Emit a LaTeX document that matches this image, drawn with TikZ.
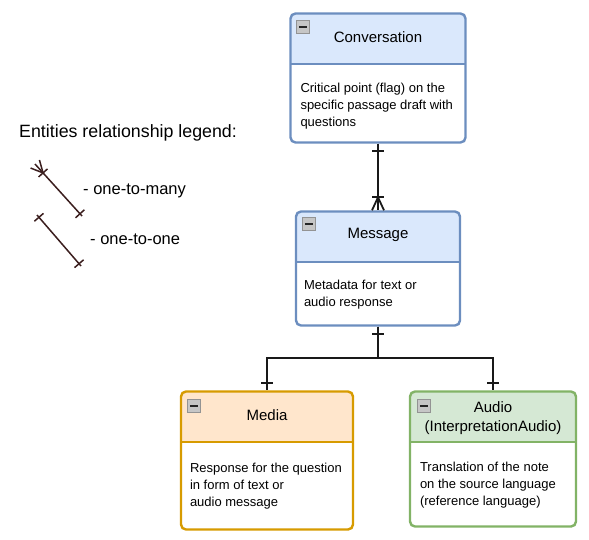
\documentclass[tikz,border=0pt]{standalone}
\usepackage{fontspec}
\setmainfont{Liberation Sans}
\usetikzlibrary{decorations.markings}

\definecolor{convfill}{HTML}{DAE8FC}
\definecolor{convline}{HTML}{6C8EBF}
\definecolor{mediafill}{HTML}{FFE6CC}
\definecolor{medialine}{HTML}{D79B00}
\definecolor{audiofill}{HTML}{D5E8D4}
\definecolor{audioline}{HTML}{82B366}
\definecolor{legendcol}{HTML}{3B1E1E}

\tikzset{
    entity/.style 2 args={rectangle, rounded corners=5pt, draw=#2, line width=2.4pt, fill=white,
        path picture={
            \fill[#1, sharp corners] (path picture bounding box.north west) rectangle ([yshift=-50pt]path picture bounding box.north east);
            \draw[#2, sharp corners, line width=2pt] ([yshift=-50pt]path picture bounding box.north west) -- ([yshift=-50pt]path picture bounding box.north east);
        }},
    entitytitle/.style={inner sep=0pt, align=center, font=\fontsize{15}{19}\selectfont},
    entitybody/.style={anchor=north west, inner sep=0pt, align=left, font=\fontsize{13}{17}\selectfont},
    minusicon/.style={rectangle, draw=gray!85, fill=gray!45, line width=1pt, minimum width=13pt, minimum height=13pt, inner sep=0pt,
        path picture={\draw[black!85, line width=1.8pt] ([xshift=2.5pt]path picture bounding box.west) -- ([xshift=-2.5pt]path picture bounding box.east);}},
    conn/.style={color=black!90, line width=1.8pt},
    legendline/.style={color=legendcol, line width=1.5pt},
    legendtitle/.style={anchor=west, inner sep=0pt, font=\fontsize{17.8}{20}\selectfont},
    legendtext/.style={anchor=west, inner sep=0pt, font=\fontsize{16.5}{20}\selectfont},
    onebar/.style={postaction={decorate, decoration={markings, mark=at position #1 with {\draw (0pt,-6pt) -- (0pt,6pt);}}}},
    manyend/.style={postaction={decorate, decoration={markings, mark=at position -13pt with {
        \draw (0pt,-6pt) -- (0pt,6pt);
        \draw (0pt,0pt) -- (13pt,-6pt) (0pt,0pt) -- (13pt,6pt);}}}},
    manystart/.style={postaction={decorate, decoration={markings, mark=at position 12pt with {
        \draw (0pt,-6pt) -- (0pt,6pt);
        \draw (0pt,0pt) -- (-12pt,-6pt) (0pt,0pt) -- (-12pt,6pt);}}}}
}

\begin{document}
\begin{tikzpicture}[x=1pt,y=-1pt]
        \useasboundingbox (0,0) rectangle (589,539);

        % legend
        \node[legendtitle] (legend) at (19,133) {Entities relationship legend:};
        \coordinate (m1) at (35,164);
        \coordinate (m2) at (82,216);
        \coordinate (o1) at (37,215);
        \coordinate (o2) at (81,266);
        \draw[legendline, manystart, onebar=-3pt] (m1) -- (m2);
        \draw[legendline, onebar=3pt, onebar=-3pt] (o1) -- (o2);
        \node[legendtext] (lmany) at (83,191) {- one-to-many};
        \node[legendtext] (lone) at (90,239) {- one-to-one};

        % entities
        \node[entity={convfill}{convline}, minimum width=175pt, minimum height=129pt] (conv) at (378,78) {};
        \node[minusicon] (convicon) at ([xshift=14pt,yshift=-15pt]conv.north west) {};
        \node[entitytitle] (convtitle) at ([yshift=-25pt]conv.north) {Conversation};
        \node[entitybody] (convtext) at ([xshift=11pt,yshift=-71pt]conv.north west) {Critical point (flag) on the\\specific passage draft with\\questions};

        \node[entity={convfill}{convline}, minimum width=164pt, minimum height=114pt] (msg) at (378,268.5) {};
        \node[minusicon] (msgicon) at ([xshift=14pt,yshift=-14pt]msg.north west) {};
        \node[entitytitle] (msgtitle) at ([yshift=-25pt]msg.north) {Message};
        \node[entitybody] (msgtext) at ([xshift=9pt,yshift=-70pt]msg.north west) {Metadata for text or\\audio response};

        \node[entity={mediafill}{medialine}, minimum width=172pt, minimum height=138pt] (media) at (267,460.5) {};
        \node[minusicon] (mediaicon) at ([xshift=14pt,yshift=-16pt]media.north west) {};
        \node[entitytitle] (mediatitle) at ([yshift=-25pt]media.north) {Media};
        \node[entitybody] (mediatext) at ([xshift=10pt,yshift=-73pt]media.north west) {Response for the question\\in form of text or\\audio message};

        \node[entity={audiofill}{audioline}, minimum width=166pt, minimum height=135pt] (audio) at (493,459) {};
        \node[minusicon] (audioicon) at ([xshift=15pt,yshift=-16pt]audio.north west) {};
        \node[entitytitle] (audiotitle) at ([yshift=-28pt]audio.north) {Audio\\(InterpretationAudio)};
        \node[entitybody] (audiotext) at ([xshift=11pt,yshift=-72pt]audio.north west) {Translation of the note\\on the source language\\(reference language)};

        % relations
        \coordinate (split) at (378,358);
        \draw[conn, onebar=7pt, manyend] (conv.south) -- (msg.north);
        \draw[conn, onebar=7pt, onebar=-7pt] (msg.south) -- (split) -| (media.north);
        \draw[conn, onebar=7pt, onebar=-7pt] (msg.south) -- (split) -| (audio.north);
\end{tikzpicture}
\end{document}
